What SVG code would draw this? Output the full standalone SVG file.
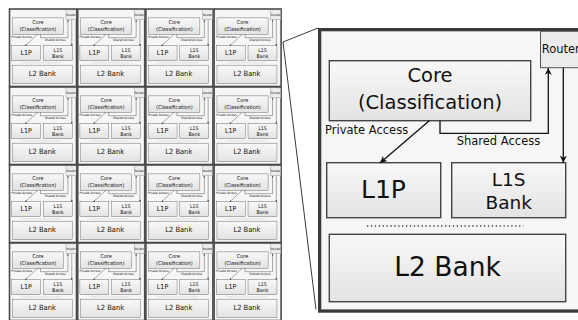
<svg xmlns="http://www.w3.org/2000/svg" xmlns:xlink="http://www.w3.org/1999/xlink" width="578" height="320" viewBox="0 0 578 320">
<style>
  text { font-family: "DejaVu Sans", "Liberation Sans", sans-serif; fill: #111; }
  .box { fill: url(#boxgrad); stroke: #444; stroke-width: 1.4; }
  .router { fill: #ececec; stroke: #555; stroke-width: 1; }
  .panel { fill: #f6f6f6; stroke: #3a3a3a; stroke-width: 3.3; }
  .tile { fill: #f6f6f6; stroke: #4a4a4a; stroke-width: 1.6; }
  .conn { fill: none; stroke: #111; stroke-width: 1.3; }
  .zoomline { fill: none; stroke: #222; stroke-width: 0.9; }
  .dots { stroke: #444; stroke-width: 1.3; stroke-dasharray: 1.3 2.6; }
</style>
<defs>
  <linearGradient id="boxgrad" x1="0" y1="0" x2="0" y2="1">
    <stop offset="0" stop-color="#f8f8f8"/>
    <stop offset="1" stop-color="#e3e3e3"/>
  </linearGradient>
  <marker id="arrow" viewBox="0 0 10 10" refX="10" refY="5" markerWidth="9" markerHeight="7" markerUnits="userSpaceOnUse" orient="auto">
    <path d="M0,0 L10,5 L0,10 L3,5 z" fill="#111"/>
  </marker>
</defs>
<rect width="578" height="320" fill="#fff"/>

<g id="zoom-lines">
  <line class="zoomline" x1="283" y1="42" x2="318" y2="28"/>
  <line class="zoomline" x1="283" y1="42" x2="316" y2="309.5"/>
</g>

<g id="detail" transform="translate(318,28)">
  <rect class="panel" x="1.65" y="1.65" width="260.7" height="281.4"/>
  <g id="detail-content">
    <g id="router">
      <rect class="router" x="222.5" y="3.3" width="40" height="36.4"/>
      <text x="223.7" y="25.3" font-size="11.5">Router</text>
    </g>
    <g id="core">
      <rect class="box" x="11.3" y="32.7" width="201.4" height="60"/>
      <text x="112" y="53.7" font-size="19.5" text-anchor="middle">Core</text>
      <text x="112" y="80.5" font-size="19.5" text-anchor="middle">(Classification)</text>
    </g>
    <g id="l1p">
      <rect class="box" x="8.7" y="134.7" width="114" height="55"/>
      <text x="65.5" y="170.3" font-size="25" text-anchor="middle">L1P</text>
    </g>
    <g id="l1s">
      <rect class="box" x="133.7" y="134.7" width="114" height="55"/>
      <text x="190.7" y="158" font-size="18.5" text-anchor="middle">L1S</text>
      <text x="190.7" y="181.3" font-size="18.5" text-anchor="middle">Bank</text>
    </g>
    <line class="dots" x1="49" y1="198" x2="205.3" y2="198"/>
    <g id="l2">
      <rect class="box" x="11.3" y="206.3" width="236.4" height="67.4"/>
      <text x="129.5" y="248" font-size="26.5" text-anchor="middle">L2 Bank</text>
    </g>
    <g id="connectors">
      <line class="conn" x1="111.3" y1="92.7" x2="62" y2="135" marker-end="url(#arrow)"/>
      <polyline class="conn" points="122,92.7 122,105.3 230.3,105.3 230.3,39.9" marker-end="url(#arrow)"/>
      <line class="conn" x1="245.3" y1="39.7" x2="245.3" y2="134.7" marker-end="url(#arrow)"/>
      <text x="7" y="106.3" font-size="11.5">Private Access</text>
      <text x="138.7" y="117" font-size="11.5">Shared Access</text>
    </g>
  </g>
</g>

<g id="grid">
  <g id="tile-1-1" transform="translate(9.5,9)"><rect class="tile" x="0" y="0" width="67" height="77.5"/><use xlink:href="#detail-content" href="#detail-content" transform="scale(0.2538,0.2722)"/></g>
  <g id="tile-1-2" transform="translate(77.7,9)"><rect class="tile" x="0" y="0" width="67" height="77.5"/><use xlink:href="#detail-content" href="#detail-content" transform="scale(0.2538,0.2722)"/></g>
  <g id="tile-1-3" transform="translate(145.9,9)"><rect class="tile" x="0" y="0" width="67" height="77.5"/><use xlink:href="#detail-content" href="#detail-content" transform="scale(0.2538,0.2722)"/></g>
  <g id="tile-1-4" transform="translate(214.1,9)"><rect class="tile" x="0" y="0" width="67" height="77.5"/><use xlink:href="#detail-content" href="#detail-content" transform="scale(0.2538,0.2722)"/></g>
  <g id="tile-2-1" transform="translate(9.5,87)"><rect class="tile" x="0" y="0" width="67" height="77.5"/><use xlink:href="#detail-content" href="#detail-content" transform="scale(0.2538,0.2722)"/></g>
  <g id="tile-2-2" transform="translate(77.7,87)"><rect class="tile" x="0" y="0" width="67" height="77.5"/><use xlink:href="#detail-content" href="#detail-content" transform="scale(0.2538,0.2722)"/></g>
  <g id="tile-2-3" transform="translate(145.9,87)"><rect class="tile" x="0" y="0" width="67" height="77.5"/><use xlink:href="#detail-content" href="#detail-content" transform="scale(0.2538,0.2722)"/></g>
  <g id="tile-2-4" transform="translate(214.1,87)"><rect class="tile" x="0" y="0" width="67" height="77.5"/><use xlink:href="#detail-content" href="#detail-content" transform="scale(0.2538,0.2722)"/></g>
  <g id="tile-3-1" transform="translate(9.5,165)"><rect class="tile" x="0" y="0" width="67" height="77.5"/><use xlink:href="#detail-content" href="#detail-content" transform="scale(0.2538,0.2722)"/></g>
  <g id="tile-3-2" transform="translate(77.7,165)"><rect class="tile" x="0" y="0" width="67" height="77.5"/><use xlink:href="#detail-content" href="#detail-content" transform="scale(0.2538,0.2722)"/></g>
  <g id="tile-3-3" transform="translate(145.9,165)"><rect class="tile" x="0" y="0" width="67" height="77.5"/><use xlink:href="#detail-content" href="#detail-content" transform="scale(0.2538,0.2722)"/></g>
  <g id="tile-3-4" transform="translate(214.1,165)"><rect class="tile" x="0" y="0" width="67" height="77.5"/><use xlink:href="#detail-content" href="#detail-content" transform="scale(0.2538,0.2722)"/></g>
  <g id="tile-4-1" transform="translate(9.5,243)"><rect class="tile" x="0" y="0" width="67" height="77.5"/><use xlink:href="#detail-content" href="#detail-content" transform="scale(0.2538,0.2722)"/></g>
  <g id="tile-4-2" transform="translate(77.7,243)"><rect class="tile" x="0" y="0" width="67" height="77.5"/><use xlink:href="#detail-content" href="#detail-content" transform="scale(0.2538,0.2722)"/></g>
  <g id="tile-4-3" transform="translate(145.9,243)"><rect class="tile" x="0" y="0" width="67" height="77.5"/><use xlink:href="#detail-content" href="#detail-content" transform="scale(0.2538,0.2722)"/></g>
  <g id="tile-4-4" transform="translate(214.1,243)"><rect class="tile" x="0" y="0" width="67" height="77.5"/><use xlink:href="#detail-content" href="#detail-content" transform="scale(0.2538,0.2722)"/></g>
</g>
</svg>
